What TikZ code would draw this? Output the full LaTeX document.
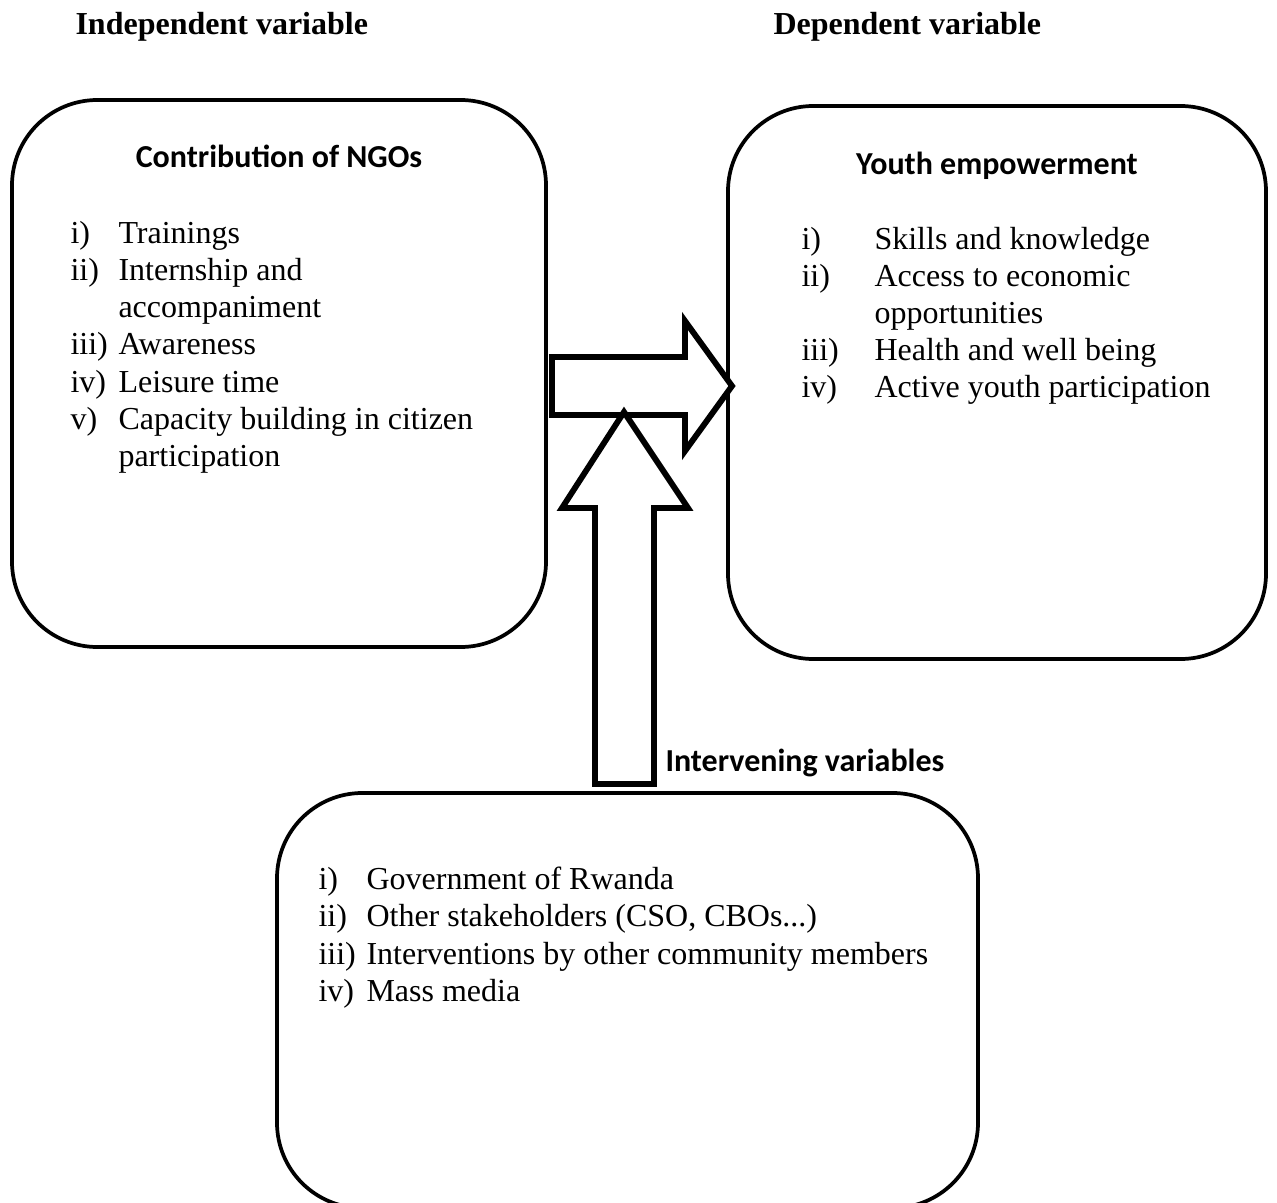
\documentclass[tikz,border=0pt]{standalone}
\usepackage{fontspec}
\setmainfont{Liberation Serif}
\newfontfamily\calibrifont{Carlito}
\begin{document}
\begin{tikzpicture}[x=0.375pt,y=-0.375pt,
  box/.style={draw, line width=1.4pt, rounded corners=32pt, inner sep=0pt},
  blockarrow/.style={draw, fill=white, line width=2.2pt, line join=miter},
  itm/.style={anchor=base west, inner sep=0pt, font=\fontsize{12}{14}\selectfont},
  boxhead/.style={anchor=base, inner sep=0pt, font=\calibrifont\bfseries\fontsize{12}{14}\selectfont},
  varhead/.style={anchor=base west, inner sep=0pt, font=\bfseries\fontsize{12}{14}\selectfont}]
\useasboundingbox (0,0) rectangle (1277,1203);

% top headings
\node[varhead] (hIV) at (75,35) {Independent variable};
\node[varhead] (hDV) at (773,35) {Dependent variable};

% boxes
\node[box, minimum width=200.25pt, minimum height=205.125pt] (L) at (279,373.5) {};
\node[box, minimum width=201.75pt, minimum height=207.375pt] (R) at (997,382.5) {};
\node[box, minimum width=262.875pt, minimum height=155.625pt] (B) at (627.5,1000.5) {};

% left box text
\node[boxhead] (hL) at (279,168) {Contribution of NGOs};
\node[itm] (L1n) at (70,243) {i)};
\node[itm] (L1t) at (118,243) {Trainings};
\node[itm] (L2n) at (70,280.3) {ii)};
\node[itm] (L2t) at (118,280.3) {Internship and};
\node[itm] (L2u) at (118,317.6) {accompaniment};
\node[itm] (L3n) at (70,354.9) {iii)};
\node[itm] (L3t) at (118,354.9) {Awareness};
\node[itm] (L4n) at (70,392.2) {iv)};
\node[itm] (L4t) at (118,392.2) {Leisure time};
\node[itm] (L5n) at (70,429.5) {v)};
\node[itm] (L5t) at (118,429.5) {Capacity building in citizen};
\node[itm] (L5u) at (118,466.8) {participation};

% right box text
\node[boxhead] (hR) at (997,174) {Youth empowerment};
\node[itm] (R1n) at (801,249) {i)};
\node[itm] (R1t) at (874,249) {Skills and knowledge};
\node[itm] (R2n) at (801,286) {ii)};
\node[itm] (R2t) at (874,286) {Access to economic};
\node[itm] (R2u) at (874,323) {opportunities};
\node[itm] (R3n) at (801,360) {iii)};
\node[itm] (R3t) at (874,360) {Health and well being};
\node[itm] (R4n) at (801,397) {iv)};
\node[itm] (R4t) at (874,397) {Active youth participation};

% bottom box text
\node[boxhead, anchor=base west] (hI) at (665,771) {Intervening variables};
\node[itm] (B1n) at (318,889) {i)};
\node[itm] (B1t) at (366,889) {Government of Rwanda};
\node[itm] (B2n) at (318,926.5) {ii)};
\node[itm] (B2t) at (366,926.5) {Other stakeholders (CSO, CBOs...)};
\node[itm] (B3n) at (318,964) {iii)};
\node[itm] (B3t) at (366,964) {Interventions by other community members};
\node[itm] (B4n) at (318,1001.5) {iv)};
\node[itm] (B4t) at (366,1001.5) {Mass media};

% block arrows
\draw[blockarrow] (552,357) -- (685,357) -- (685,321) -- (732,386) -- (685,451) -- (685,415) -- (552,415) -- cycle;
\draw[blockarrow] (595,784) -- (595,508) -- (562,508) -- (624,412) -- (688,508) -- (654,508) -- (654,784) -- cycle;
\end{tikzpicture}
\end{document}
